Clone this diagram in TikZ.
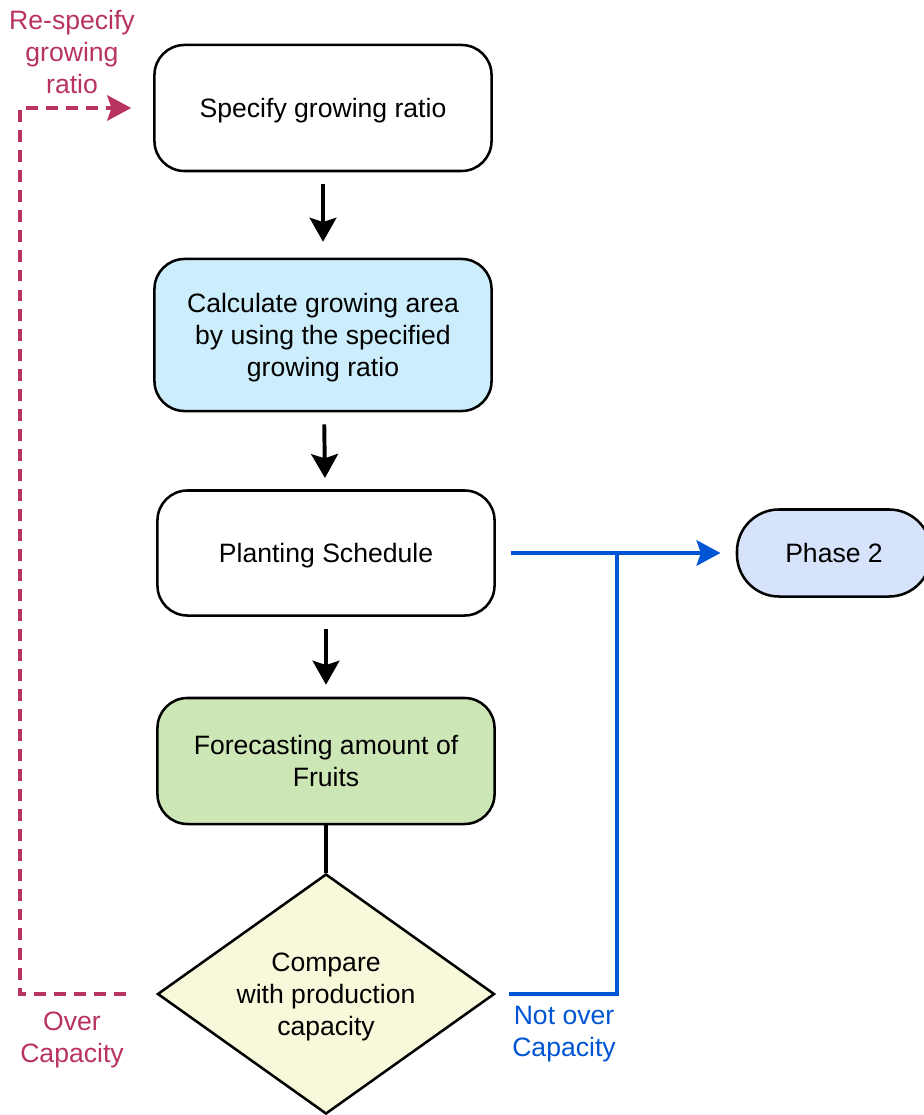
\documentclass[tikz,border=0pt]{standalone}
\usepackage{fontspec}
\setmainfont{Liberation Sans}
\usetikzlibrary{shapes.geometric,arrows.meta}

\definecolor{redline}{RGB}{184,50,98}
\definecolor{blueline}{RGB}{0,85,212}
\definecolor{calcfill}{RGB}{204,238,252}
\definecolor{forefill}{RGB}{205,230,182}
\definecolor{cmpfill}{RGB}{247,249,218}
\definecolor{phasefill}{RGB}{214,227,250}
\newcommand{\fs}{\fontsize{18.9}{22.8}\selectfont}

\tikzset{
box/.style={draw,line width=1.8pt,rounded corners=0.75cm,minimum width=8.425cm,align=center,font=\fs,text depth=0pt},
blk/.style={line width=2.8pt,-{Stealth[length=17pt,width=19pt,inset=3pt]}},
blu/.style={draw=blueline,line width=2.8pt},
redl/.style={draw=redline,line width=2.8pt,dash pattern=on 8.5pt off 5.7pt},
lbl/.style={align=center,font=\fs}
}

\begin{document}
\begin{tikzpicture}[x=0.025cm,y=-0.025cm]
\useasboundingbox (0,0) rectangle (924,1115);

\node[box,minimum height=3.15cm] (spec) at (323,108) {Specify growing ratio};
\node[box,fill=calcfill,minimum height=3.8cm] (calc) at (323,335) {Calculate growing area\\by using the specified\\growing ratio};
\node[box,minimum height=3.125cm] (plant) at (326,553) {Planting Schedule};
\node[box,fill=forefill,minimum height=3.15cm] (fore) at (326,761) {Forecasting amount of\\Fruits};
\node[draw,line width=1.8pt,fill=cmpfill,diamond,aspect=1.4,minimum width=8.425cm,minimum height=6cm,inner sep=0pt,align=center,font=\fs,text depth=-5pt] (cmp) at (326,994) {Compare\\with production\\capacity};
\node[box,fill=phasefill,minimum width=4.85cm,minimum height=2.175cm,rounded corners=1.05cm] (phase) at (834,553) {Phase 2};

\coordinate (join) at (617,553);
\coordinate (ltop) at (20,108);

% main flow
\draw[blk,shorten <=0.3cm,shorten >=0.4cm] (spec) -- (calc);
\draw[blk,shorten <=0.3cm,shorten >=0.28cm] (calc) -- (plant);
\draw[blk,shorten <=0.3cm,shorten >=0.3cm] (plant) -- (fore);
\draw[line width=2.8pt] (fore) -- (cmp);

% not over capacity
\draw[blu,-{Stealth[length=17pt,width=18pt,inset=3pt]},shorten <=0.38cm,shorten >=0.38cm] (plant) -- (phase);
\draw[blu,shorten <=0.33cm] (cmp.east) -| (join);
\node[lbl,text=blueline] (notover) at (564,1034) {Not over\\Capacity};

% over capacity
\draw[redl,-{Stealth[length=17pt,width=18pt,inset=3pt]},shorten <=0.75cm,shorten >=0.55cm] (cmp.west) -| (ltop) -- (spec.west);
\node[lbl,text=redline] (respec) at (72,52) {Re-specify\\growing\\ratio};
\node[lbl,text=redline] (over) at (72,1040) {Over\\Capacity};
\end{tikzpicture}
\end{document}
